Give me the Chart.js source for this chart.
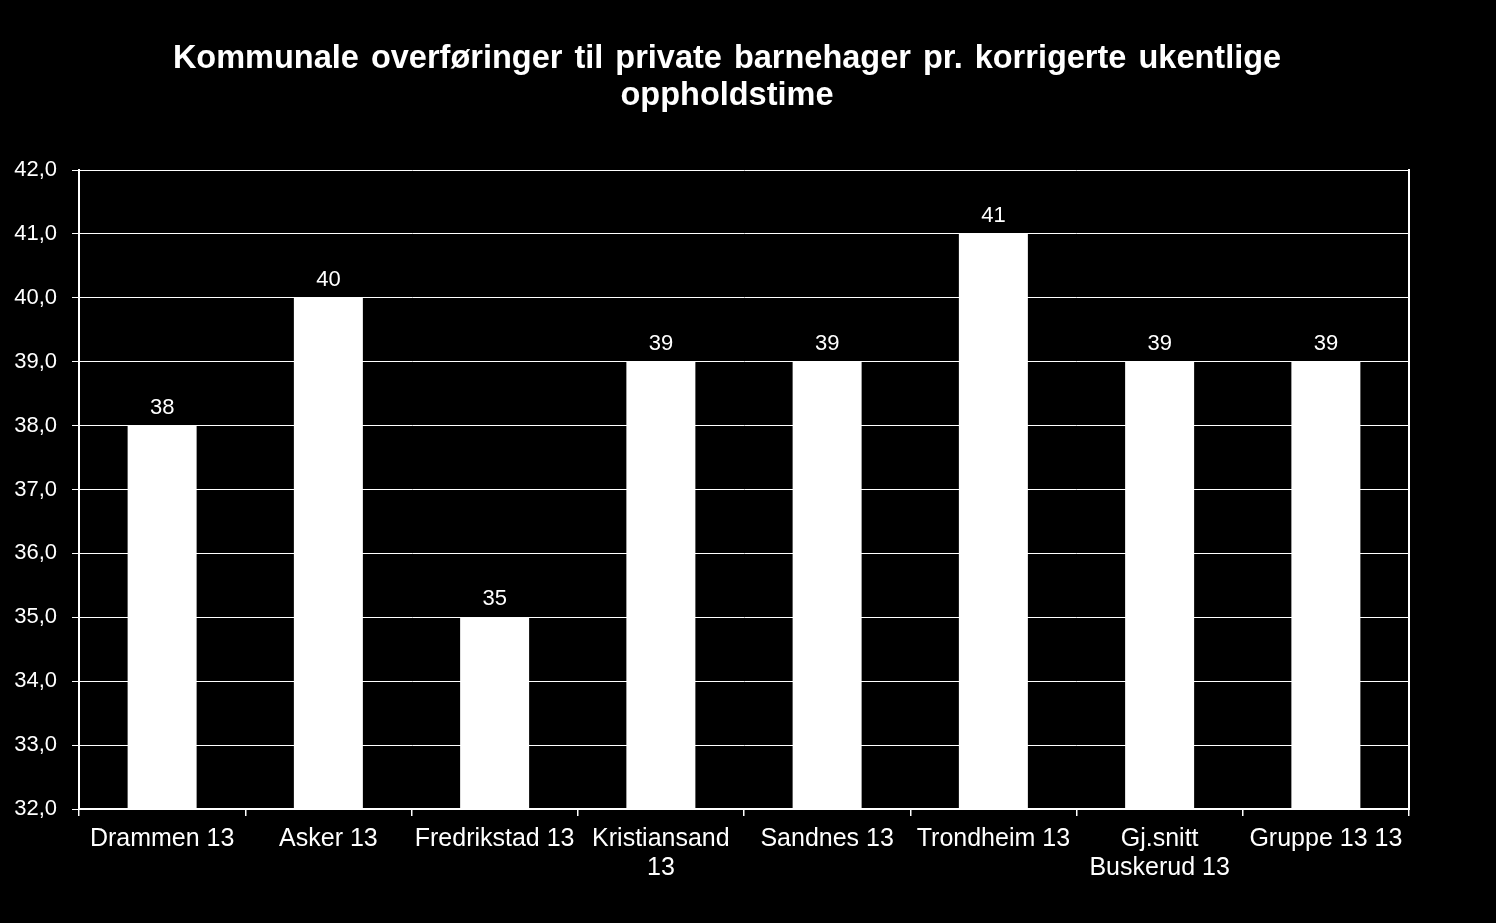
<!DOCTYPE html>
<html>
<head>
<meta charset="utf-8">
<script src="https://cdn.jsdelivr.net/npm/chart.js@4/dist/chart.umd.min.js"></script>
<style>
  html, body { margin: 0; padding: 0; background: #000; }
  #wrap { width: 1496px; height: 923px; }
</style>
</head>
<body>
<div id="wrap"><canvas id="c" width="1496" height="923"></canvas></div>
<script>
const titleLines = ["Kommunale overføringer til private barnehager pr. korrigerte ukentlige", "oppholdstime"];
const categories = ["Drammen 13", "Asker 13", "Fredrikstad 13", ["Kristiansand", "13"], "Sandnes 13", "Trondheim 13", ["Gj.snitt", "Buskerud 13"], "Gruppe 13 13"];
const values = [38, 40, 35, 39, 39, 41, 39, 39];
const yMin = 32, yMax = 42, yStep = 1;

const FONT = "'Liberation Sans', Arial, sans-serif";

const titlePlugin = {
  id: 'customTitle',
  afterDraw(chart) {
    const ctx = chart.ctx;
    ctx.save();
    ctx.fillStyle = '#fff';
    ctx.font = "bold 32.5px " + FONT;
    ctx.textAlign = 'center';
    ctx.textBaseline = 'alphabetic';
    try { ctx.wordSpacing = '3px'; } catch (e) {}
    ctx.fillText(titleLines[0], 727, 68);
    ctx.fillText(titleLines[1], 727, 105);
    ctx.restore();
  }
};

const valueLabels = {
  id: 'valueLabels',
  afterDatasetsDraw(chart) {
    const ctx = chart.ctx;
    ctx.save();
    ctx.fillStyle = '#fff';
    ctx.font = "22px " + FONT;
    ctx.textAlign = 'center';
    ctx.textBaseline = 'alphabetic';
    const meta = chart.getDatasetMeta(0);
    meta.data.forEach((bar, i) => {
      ctx.fillText(String(Math.round(values[i])), bar.x, bar.y - 12);
    });
    ctx.restore();
  }
};

new Chart(document.getElementById('c'), {
  type: 'bar',
  data: {
    labels: categories,
    datasets: [{
      data: values,
      backgroundColor: '#ffffff',
      borderWidth: 0,
      categoryPercentage: 1.0,
      barPercentage: 0.415
    }]
  },
  options: {
    responsive: false,
    animation: false,
    events: [],
    layout: { padding: { top: 170, left: 0, right: 87, bottom: 0 } },
    plugins: { legend: { display: false }, title: { display: false }, tooltip: { enabled: false } },
    scales: {
      x: {
        offset: true,
        grid: { display: true, drawOnChartArea: false, drawTicks: true, tickLength: 7, offset: true, color: '#fff', lineWidth: 1.5 },
        border: { display: true, color: '#fff', width: 2 },
        ticks: { color: '#fff', font: { family: FONT, size: 25, lineHeight: 1.15 }, maxRotation: 0, minRotation: 0, autoSkip: false, padding: 9 },
        afterFit(scale) { scale.height = 114; }
      },
      y: {
        min: yMin, max: yMax,
        grid: { color: '#fff', lineWidth: 1, tickLength: 7, drawTicks: true },
        border: { display: true, color: '#fff', width: 2 },
        ticks: {
          stepSize: yStep, color: '#fff', padding: 15,
          font: { family: FONT, size: 22 },
          callback: (v) => v.toFixed(1).replace('.', ',')
        },
        afterFit(scale) { scale.width = 79; }
      },
      y2: {
        position: 'right',
        min: yMin, max: yMax,
        grid: { display: false, drawTicks: false },
        border: { display: true, color: '#fff', width: 2 },
        ticks: { display: false },
        afterFit(scale) { scale.width = 0; }
      }
    }
  },
  plugins: [titlePlugin, valueLabels]
});
</script>
</body>
</html>
